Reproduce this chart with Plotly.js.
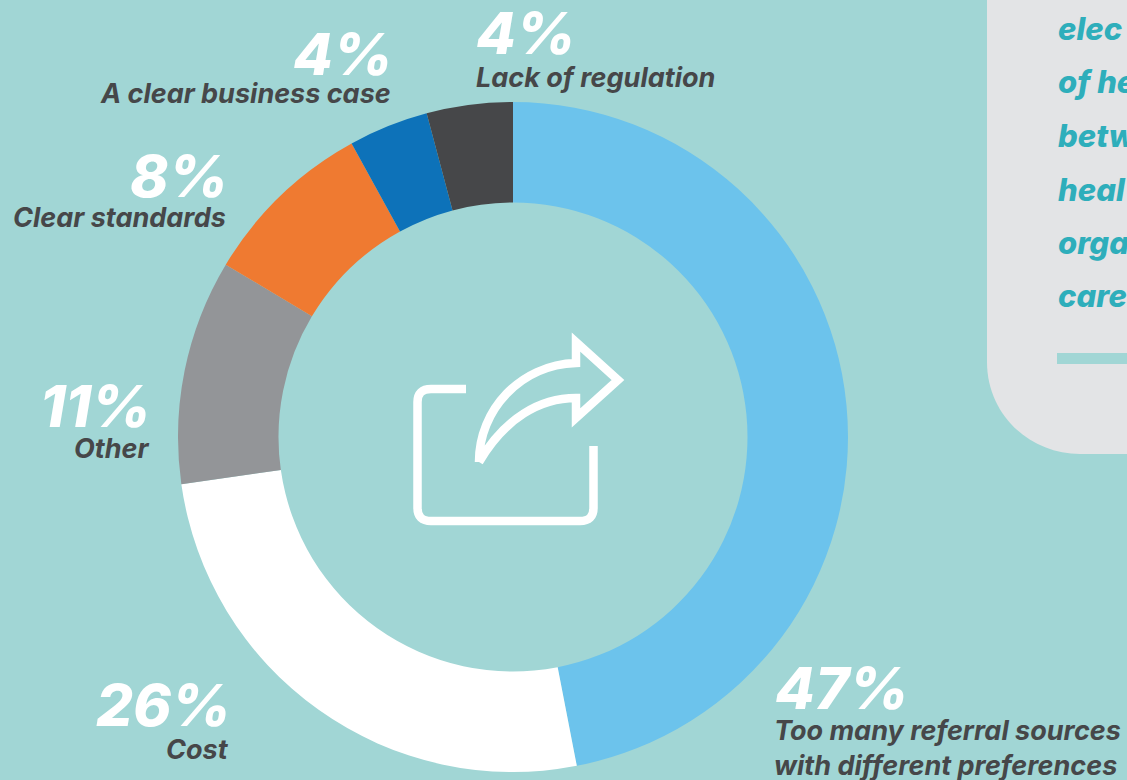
<!DOCTYPE html>
<html>
<head>
<meta charset="utf-8">
<script src="https://cdn.plot.ly/plotly-3.0.1.min.js"></script>
<style>html,body{margin:0;padding:0;background:#a1d6d5;overflow:hidden}</style>
</head>
<body>
<div id="chart" style="width:1127px;height:780px"></div>
<script>
const categories = ["Too many referral sources<br>with different preferences", "Cost", "Other", "Clear standards", "A clear business case", "Lack of regulation"];
const percentLabels = ["47%", "26%", "11%", "8%", "4%", "4%"];
const sliceShares = [46.95, 25.8, 10.85, 8.4, 3.85, 4.15];
const sliceColors = ["#6cc3ec", "#ffffff", "#939598", "#ef7a31", "#0d72b9", "#464749"];
const cardLines = ["elec", "of he", "betw", "heal", "orga", "care"];

const W = 1127, H = 780;
const FONT = "Inter";
const px = x => x / W;
const py = y => 1 - y / H;
const p = (x, y) => px(x) + "," + py(y);

// pixel anchors for the callouts: [pctX, pctY, labelX, labelY, anchor]
const callouts = [
  [773, 688, 772, 748, "left"],
  [233, 705, 231, 749, "right"],
  [153, 406, 152, 449, "right"],
  [230, 176, 228, 217, "right"],
  [395, 54, 393, 93, "right"],
  [474, 33, 474, 78, "left"]
];
const cardY = [29, 82, 135, 189, 242, 295];

const annotations = [];
percentLabels.forEach((t, i) => {
  const [x1, y1, x2, y2, a] = callouts[i];
  annotations.push({
    xref: "paper", yref: "paper", x: px(x1), y: py(y1), xanchor: a, yanchor: "middle",
    showarrow: false, text: t,
    font: {family: FONT, size: 58, color: "#ffffff", weight: 800, style: "italic"}
  });
  annotations.push({
    xref: "paper", yref: "paper", x: px(x2), y: py(y2), xanchor: a, yanchor: "middle", align: a,
    showarrow: false, text: categories[i],
    font: {family: FONT, size: 27, color: "#464749", weight: 700, style: "italic"}
  });
});
cardLines.forEach((t, i) => annotations.push({
  xref: "paper", yref: "paper", x: px(1056), y: py(cardY[i]), xanchor: "left", yanchor: "middle",
  showarrow: false, text: t,
  font: {family: FONT, size: 31, color: "#2eaebb", weight: 800, style: "italic"}
}));

const white = {color: "#ffffff", width: 8.5};
const shapes = [
  { // card
    type: "path", xref: "paper", yref: "paper", layer: "below", fillcolor: "#e3e4e6", line: {width: 0},
    path: "M" + p(987, 0) + " L" + p(987, 362) + " C" + p(987, 415) + " " + p(1030, 454) + " " + p(1080, 454) +
          " L" + p(1127, 454) + " L" + p(1127, 0) + " Z"
  },
  { // card rule
    type: "rect", xref: "paper", yref: "paper", layer: "below", fillcolor: "#a1d6d5", line: {width: 0},
    x0: px(1057), x1: px(1127), y0: py(353), y1: py(364)
  },
  { // icon box
    type: "path", xref: "paper", yref: "paper", line: white, fillcolor: "rgba(0,0,0,0)",
    path: "M" + p(466, 389) + " L" + p(431, 389) + " Q" + p(417.5, 389) + " " + p(417.5, 402) +
          " L" + p(417.5, 508) + " Q" + p(417.5, 521) + " " + p(431, 521) +
          " L" + p(580, 521) + " Q" + p(593.5, 521) + " " + p(593.5, 508) + " L" + p(593.5, 446)
  },
  { // icon arrow
    type: "path", xref: "paper", yref: "paper", line: white, fillcolor: "rgba(0,0,0,0)",
    path: "M" + p(479, 462) + " C" + p(479, 410) + " " + p(520, 365) + " " + p(576, 363) +
          " L" + p(576, 342) + " L" + p(618, 380) + " L" + p(576, 418) + " L" + p(576, 398) +
          " C" + p(540, 398) + " " + p(505, 418) + " " + p(479, 462)
  }
];

Plotly.newPlot("chart", [{
  type: "pie",
  labels: categories,
  values: sliceShares,
  marker: {colors: sliceColors, line: {width: 0}},
  hole: 0.7,
  sort: false,
  direction: "clockwise",
  rotation: 0,
  textinfo: "none",
  hoverinfo: "label+percent",
  showlegend: false,
  domain: {x: [px(178), px(848)], y: [py(772), py(102)]}
}], {
  width: W, height: H,
  margin: {l: 0, r: 0, t: 0, b: 0, pad: 0},
  paper_bgcolor: "#a1d6d5",
  plot_bgcolor: "#a1d6d5",
  showlegend: false,
  annotations: annotations,
  shapes: shapes
}, {displayModeBar: false, staticPlot: true});
</script>
</body>
</html>
